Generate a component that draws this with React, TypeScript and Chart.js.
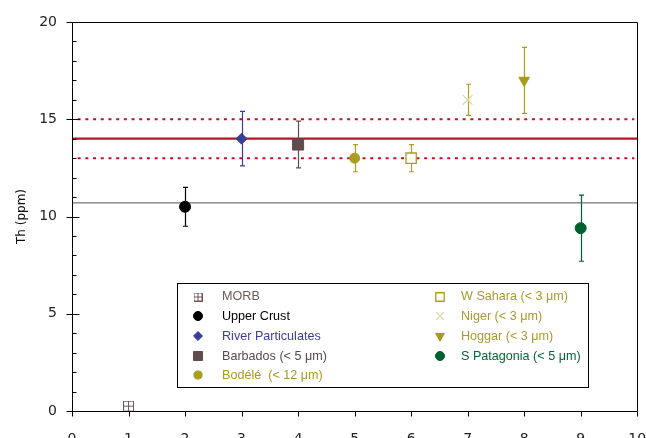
import React, { useEffect, useRef } from "react";
import { Chart, registerables } from "chart.js";
import { drawPoint } from "chart.js/helpers";

Chart.register(...registerables);

// ---- data ----
const seriesNames = [
  "MORB",
  "Upper Crust",
  "River Particulates",
  "Barbados (< 5 μm)",
  "Bodélé  (< 12 μm)",
  "W Sahara (< 3 μm)",
  "Niger (< 3 μm)",
  "Hoggar (< 3 μm)",
  "S Patagonia (< 5 μm)",
];
const xPositions = [1, 2, 3, 4, 5, 6, 7, 8, 9];
const thValues = [0.25, 10.5, 14.0, 13.7, 13.0, 13.0, 16.0, 17.0, 9.4];
const errLow = [null, 9.5, 12.6, 12.5, 12.3, 12.3, 15.2, 15.3, 7.7];
const errHigh = [null, 11.5, 15.4, 14.9, 13.7, 13.7, 16.8, 18.7, 11.1];
const meanTh = 14;
const bandLow = 13;
const bandHigh = 15;
const grayRef = 10.7;
const xRange = [0, 10];
const yRange = [0, 20];
const yTickStep = 5;

// ---- styles ----
const RED = "#bd1128";
const OLIVE = "#ab9d22";
const markerColors = ["#6e5656", "#000000", "#3b3b9a", "#5f4c4c", OLIVE, OLIVE, "#ddd6a2", "#a89a1c", "#00612f"];
const barColors = ["#6e5656", "#000000", "#3b3b9a", "#5f4c4c", OLIVE, OLIVE, OLIVE, OLIVE, "#00612f"];
const textColors = ["#6b5a5a", "#000000", "#3d3d9c", "#5a4a4a", "#a89a20", "#a89a30", "#a89a30", "#a89a30", "#006633"];

function makeMorbImage(size: number, color: string) {
  const c = document.createElement("canvas");
  c.width = size;
  c.height = size;
  const g = c.getContext("2d")!;
  g.strokeStyle = color;
  g.lineWidth = 1;
  g.strokeRect(0.5, 0.5, size - 1, size - 1);
  const m = Math.floor(size / 2) + 0.5;
  g.beginPath();
  g.moveTo(m, 0.5);
  g.lineTo(m, size - 0.5);
  g.moveTo(0.5, m);
  g.lineTo(size - 0.5, m);
  g.stroke();
  return c;
}

export default function App() {
  const ref = useRef<HTMLCanvasElement>(null);
  useEffect(() => {
    const morbImg = makeMorbImage(11, markerColors[0]);
    const morbImgSmall = makeMorbImage(9, markerColors[0]);
    const styles: any[] = [
      { pointStyle: morbImg, radius: 5, rotation: 0, fill: false, bw: 1 },
      { pointStyle: "circle", radius: 5.5, rotation: 0, fill: true, bw: 1 },
      { pointStyle: "rectRot", radius: 5.5, rotation: 0, fill: true, bw: 1 },
      { pointStyle: "rect", radius: 7.8, rotation: 0, fill: true, bw: 1 },
      { pointStyle: "circle", radius: 5, rotation: 0, fill: true, bw: 1 },
      { pointStyle: "rect", radius: 7.3, rotation: 0, fill: false, bw: 1.3 },
      { pointStyle: "crossRot", radius: 7, rotation: 0, fill: false, bw: 1.2 },
      { pointStyle: "triangle", radius: 6.2, rotation: 180, fill: true, bw: 1 },
      { pointStyle: "circle", radius: 5.5, rotation: 0, fill: true, bw: 1 },
    ];

    const pointSets = seriesNames.map((name, i) => ({
      type: "scatter" as const,
      label: name,
      data: [{ x: xPositions[i], y: thValues[i] }],
      pointStyle: styles[i].pointStyle,
      pointRadius: styles[i].radius,
      pointRotation: styles[i].rotation,
      pointBackgroundColor: styles[i].fill ? markerColors[i] : "#ffffff",
      pointBorderColor: markerColors[i],
      pointBorderWidth: styles[i].bw,
      order: 0,
    }));

    const lineSet = (y: number, x0: number, x1: number, color: string, width: number, dash: number[]) => ({
      type: "line" as const,
      label: "",
      data: [
        { x: x0, y },
        { x: x1, y },
      ],
      borderColor: color,
      borderWidth: width,
      borderDash: dash,
      pointRadius: 0,
      fill: false,
      order: 5,
    });

    const refSets = [
      lineSet(grayRef, xRange[0], xRange[1], "#505050", 1, []),
      lineSet(meanTh, xRange[0], xRange[1], RED, 2.2, []),
      lineSet(bandHigh, 0.1, 9.95, RED, 2, [3, 4.7]),
      lineSet(bandLow, 0.1, 9.95, RED, 2, [3, 4.7]),
    ];

    const errorBars = {
      id: "errorBars",
      beforeDatasetsDraw(chart: any) {
        const { ctx, scales } = chart;
        const xs = scales.x, ys = scales.y;
        ctx.save();
        seriesNames.forEach((_, i) => {
          if (errLow[i] == null || errHigh[i] == null) return;
          const px = Math.round(xs.getPixelForValue(xPositions[i])) + 0.5;
          const y0 = ys.getPixelForValue(errLow[i]);
          const y1 = ys.getPixelForValue(errHigh[i]);
          ctx.strokeStyle = barColors[i];
          ctx.lineWidth = 1.2;
          ctx.beginPath();
          ctx.moveTo(px, y0);
          ctx.lineTo(px, y1);
          ctx.moveTo(px - 2.5, y0);
          ctx.lineTo(px + 2.5, y0);
          ctx.moveTo(px - 2.5, y1);
          ctx.lineTo(px + 2.5, y1);
          ctx.stroke();
        });
        ctx.restore();
      },
    };

    const frame = {
      id: "frame",
      afterDraw(chart: any) {
        const { ctx, chartArea: a, scales } = chart;
        ctx.save();
        ctx.strokeStyle = "#000";
        ctx.lineWidth = 1;
        ctx.beginPath();
        const L = Math.round(a.left) + 0.5;
        const B = Math.round(a.bottom) + 0.5;
        const T = Math.round(a.top) + 0.5;
        const R = Math.round(a.right) + 0.5;
        ctx.moveTo(L, T);
        ctx.lineTo(R, T);
        ctx.lineTo(R, B);
        ctx.moveTo(L, T);
        ctx.lineTo(L, B);
        ctx.lineTo(R, B);
        // y ticks
        for (let v = yRange[0]; v <= yRange[1]; v++) {
          const py = Math.round(scales.y.getPixelForValue(v)) + 0.5;
          if (v % yTickStep === 0) {
            const inner = v === yRange[0] || v === yRange[1] ? 0 : 7;
            ctx.moveTo(L - 6, py);
            ctx.lineTo(L + inner, py);
          } else {
            ctx.moveTo(L, py);
            ctx.lineTo(L + 4, py);
          }
        }
        for (let v = xRange[0]; v <= xRange[1]; v++) {
          const px = Math.round(scales.x.getPixelForValue(v)) + 0.5;
          ctx.moveTo(px, B);
          ctx.lineTo(px, B + 5);
        }
        ctx.stroke();

        // legend
        const bx = a.left + 105.5, by = a.top + 261.5, bw = 411, bh = 104;
        ctx.fillStyle = "#fff";
        ctx.fillRect(bx, by, bw, bh);
        ctx.strokeRect(bx, by, bw, bh);
        ctx.font = "12.6px 'Liberation Sans', Arial, sans-serif";
        ctx.textBaseline = "middle";
        ctx.textAlign = "left";
        seriesNames.forEach((name, i) => {
          const col = i < 5 ? 0 : 1;
          const row = i < 5 ? i : i - 5;
          const sx = col === 0 ? bx + 20.5 : bx + 262.5;
          const tx = col === 0 ? bx + 44.5 : bx + 283.5;
          const sy = by + 13 + row * 19.7;
          const st = styles[i];
          ctx.fillStyle = st.fill ? markerColors[i] : "#ffffff";
          ctx.strokeStyle = markerColors[i];
          ctx.lineWidth = st.bw;
          drawPoint(
            ctx,
            {
              pointStyle: i === 0 ? morbImgSmall : st.pointStyle,
              radius: st.radius * 0.82,
              rotation: st.rotation,
              borderWidth: st.bw,
            } as any,
            Math.round(sx),
            Math.round(sy)
          );
          ctx.fillStyle = textColors[i];
          ctx.fillText(name, tx, sy + 0.5);
        });
        ctx.restore();
      },
    };

    const chart = new Chart(ref.current!, {
      type: "scatter",
      data: { datasets: [...refSets, ...pointSets] as any },
      options: {
        animation: false,
        responsive: false,
        maintainAspectRatio: false,
        layout: { padding: { top: 22, right: 8, left: 0, bottom: 0 } },
        plugins: { legend: { display: false }, tooltip: { enabled: false } },
        scales: {
          x: {
            type: "linear",
            min: xRange[0],
            max: xRange[1],
            grid: { display: false, drawTicks: false },
            border: { display: false },
            ticks: {
              stepSize: 1,
              padding: 20,
              autoSkip: false,
              maxRotation: 0,
              color: "#222",
              font: { family: "'DejaVu Sans', sans-serif", size: 14 },
            },
            afterFit: (s: any) => {
              s.height = 27;
              s.paddingLeft = 0;
              s.paddingRight = 0;
            },
          },
          y: {
            type: "linear",
            min: yRange[0],
            max: yRange[1],
            grid: { display: false, drawTicks: false },
            border: { display: false },
            ticks: {
              stepSize: yTickStep,
              padding: 15,
              color: "#222",
              font: { family: "'DejaVu Sans', sans-serif", size: 14 },
            },
            title: {
              display: true,
              text: "Th (ppm)",
              color: "#111",
              padding: { top: 15, bottom: 0 },
              font: { family: "'DejaVu Sans', sans-serif", size: 12 },
            },
            afterFit: (s: any) => {
              s.width = 72;
              s.paddingTop = 0;
              s.paddingBottom = 0;
            },
          },
        },
      },
      plugins: [errorBars, frame],
    });
    return () => chart.destroy();
  }, []);

  return (
    <div style={{ position: "fixed", left: 0, top: 0, width: 646, height: 438, background: "#fff" }}>
      <canvas ref={ref} width={646} height={438} style={{ display: "block" }} />
    </div>
  );
}
